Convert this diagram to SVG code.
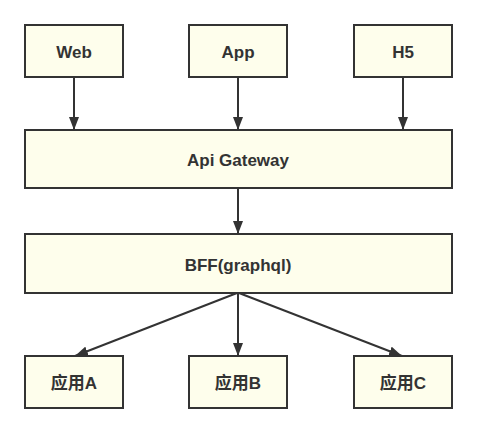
<svg xmlns="http://www.w3.org/2000/svg" width="477" height="433" viewBox="0 0 477 433">
<defs>
<style>
.box{fill:#fefeec;stroke:#333;stroke-width:2}
.lbl{font-family:"Liberation Sans","Noto Sans CJK SC",sans-serif;font-size:17px;font-weight:bold;fill:#333;text-anchor:middle;dominant-baseline:central}
.edge{stroke:#333;stroke-width:2;fill:none;marker-end:url(#arr)}
</style>
<marker id="arr" viewBox="0 0 13 10" refX="13" refY="5" markerWidth="6.5" markerHeight="5" markerUnits="strokeWidth" orient="auto">
<path d="M0,0 L13,5 L0,10 z" fill="#333"/>
</marker>
</defs>
<rect width="477" height="433" fill="#fff"/>
<g id="edges">
<line class="edge" x1="74" y1="77" x2="74" y2="130"/>
<line class="edge" x1="238" y1="77" x2="238" y2="130"/>
<line class="edge" x1="403" y1="77" x2="403" y2="130"/>
<line class="edge" x1="238" y1="188" x2="238" y2="234"/>
<line class="edge" x1="237" y1="293" x2="75" y2="356"/>
<line class="edge" x1="238" y1="293" x2="238" y2="356"/>
<line class="edge" x1="239" y1="293" x2="402" y2="356"/>
</g>
<g id="web"><rect class="box" x="25" y="25" width="98" height="52"/><text class="lbl" x="74" y="52">Web</text></g>
<g id="app"><rect class="box" x="189" y="25" width="98" height="52"/><text class="lbl" x="238" y="52">App</text></g>
<g id="h5"><rect class="box" x="354" y="25" width="98" height="52"/><text class="lbl" x="403" y="52">H5</text></g>
<g id="gateway"><rect class="box" x="25" y="130" width="427" height="58"/><text class="lbl" x="238" y="160">Api Gateway</text></g>
<g id="bff"><rect class="box" x="25" y="234" width="427" height="59"/><text class="lbl" x="238" y="265">BFF(graphql)</text></g>
<g id="appA"><rect class="box" x="25" y="356" width="98" height="52"/><text class="lbl" x="74" y="383">应用A</text></g>
<g id="appB"><rect class="box" x="189" y="356" width="98" height="52"/><text class="lbl" x="238" y="383">应用B</text></g>
<g id="appC"><rect class="box" x="354" y="356" width="98" height="52"/><text class="lbl" x="403" y="383">应用C</text></g>
</svg>
